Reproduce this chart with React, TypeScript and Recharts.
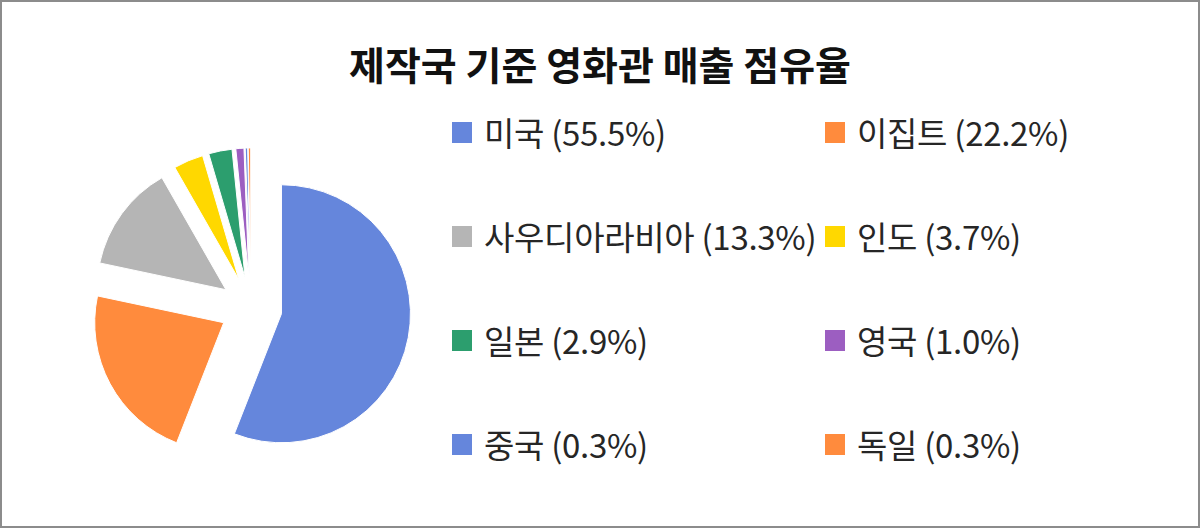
import { PieChart, Pie, Cell, Sector, Legend } from "recharts";

const countries = ["미국", "이집트", "사우디아라비아", "인도", "일본", "영국", "중국", "독일"];
const shares = [55.5, 22.2, 13.3, 3.7, 2.9, 1.0, 0.3, 0.3];
const colors = ["#6586DC", "#FF8B3D", "#B5B5B5", "#FFD800", "#2C9E6E", "#9C5EC1", "#6586DC", "#FF8B3D"];

const data = countries.map((name, i) => ({ name, value: shares[i] }));

const FONT = '"Noto Sans CJK KR", "Noto Sans", sans-serif';
const RADIAN = Math.PI / 180;
const EXPLODE = 31;

// pulls every slice outward along its mid angle
const ExplodedSlice = (props: any) => {
  const { cx, cy, midAngle } = props;
  const dx = EXPLODE * Math.cos(-midAngle * RADIAN);
  const dy = EXPLODE * Math.sin(-midAngle * RADIAN);
  return <Sector {...props} cx={cx + dx} cy={cy + dy} />;
};

// legend keeps the data order (row by row, two columns)
const LegendGrid = () => (
  <div
    style={{
      display: "grid",
      gridTemplateColumns: "373px 330px",
      gridAutoRows: "104px",
      fontFamily: FONT,
    }}
  >
    {countries.map((name, i) => (
      <div key={name} style={{ display: "flex", alignItems: "center", height: 44 }}>
        <span
          style={{
            display: "inline-block",
            width: 20,
            height: 21,
            background: colors[i],
            marginRight: 12,
          }}
        />
        <span style={{ fontSize: 33, color: "#262626", whiteSpace: "nowrap", letterSpacing: -0.3 }}>
          {`${name} (${shares[i].toFixed(1)}%)`}
        </span>
      </div>
    ))}
  </div>
);

export default function App() {
  return (
    <div
      style={{
        position: "absolute",
        left: 0,
        top: 0,
        width: 1200,
        height: 528,
        boxSizing: "border-box",
        border: "2px solid #8c8c8c",
        background: "#fff",
      }}
    >
      <div
        style={{
          position: "absolute",
          left: 0,
          right: 0,
          top: 34,
          textAlign: "center",
          fontFamily: FONT,
          fontWeight: 700,
          fontSize: 39,
          color: "#111",
          lineHeight: "54px",
        }}
      >
        제작국 기준 영화관 매출 점유율
      </div>
      <PieChart width={1196} height={524} style={{ position: "absolute", left: 0, top: 0 }}>
        <Pie
          data={data}
          dataKey="value"
          nameKey="name"
          cx={244}
          cy={301}
          outerRadius={129}
          startAngle={90}
          endAngle={-270}
          stroke="#fff"
          strokeWidth={1}
          shape={ExplodedSlice}
          isAnimationActive={false}
        >
          {data.map((d, i) => (
            <Cell key={d.name} fill={colors[i]} />
          ))}
        </Pie>
        <Legend
          content={LegendGrid}
          layout="vertical"
          wrapperStyle={{ position: "absolute", left: 450, top: 108, width: 720 }}
        />
      </PieChart>
    </div>
  );
}
